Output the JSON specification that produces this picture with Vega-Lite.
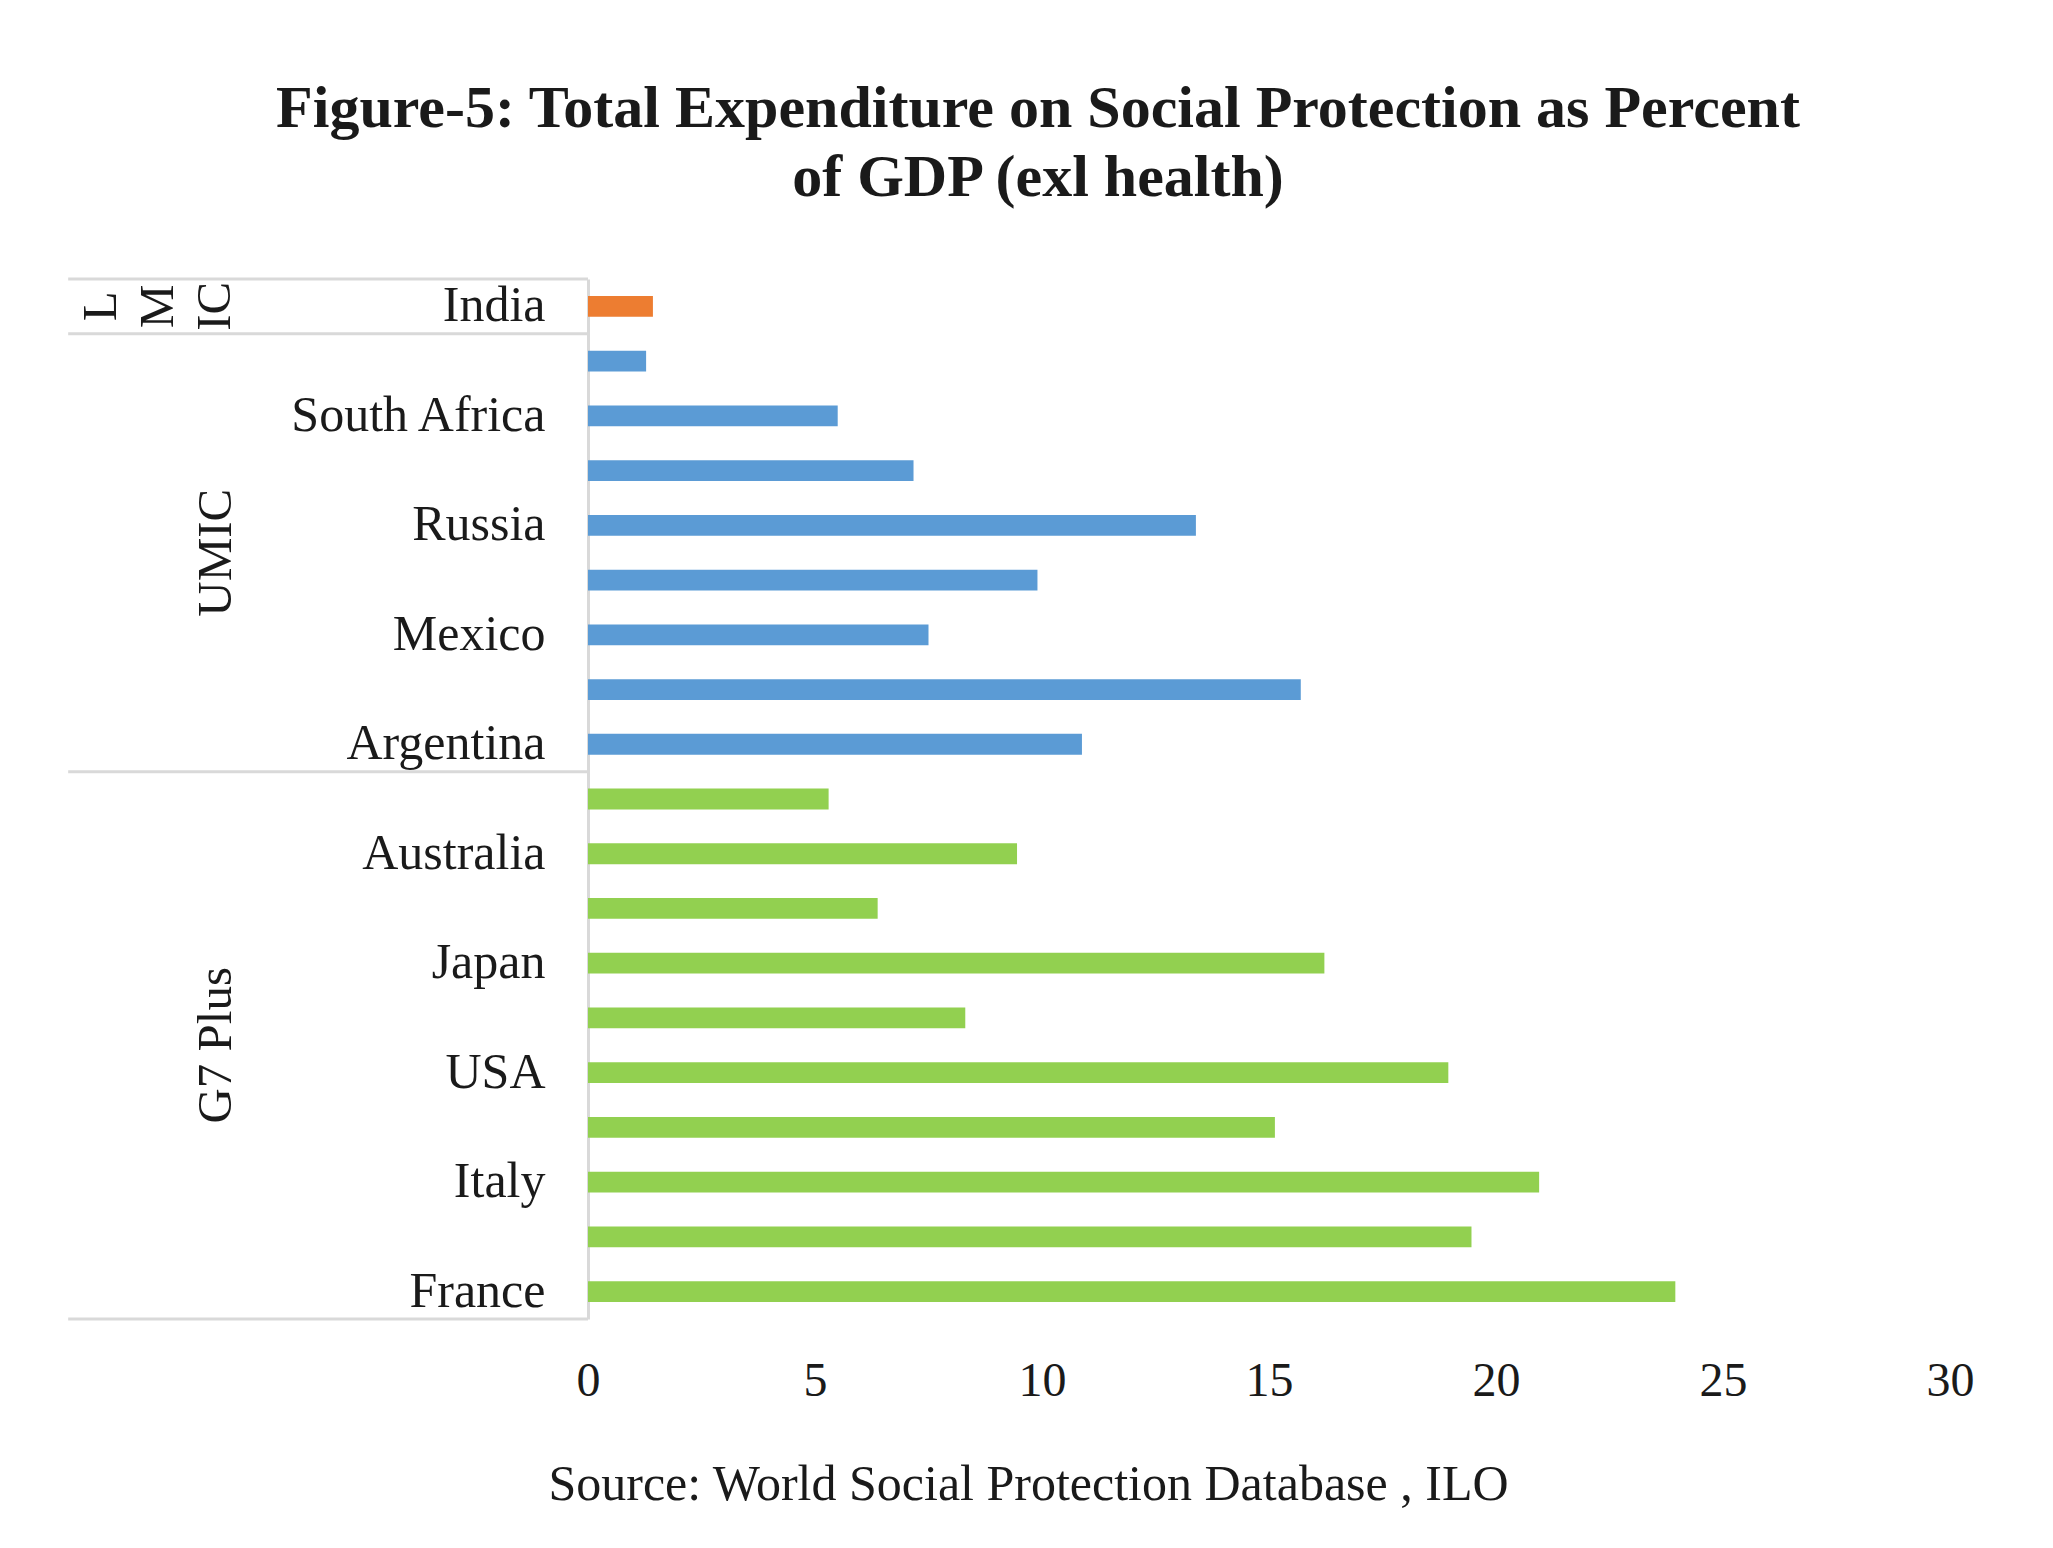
{
  "$schema": "https://vega.github.io/schema/vega-lite/v6.json",
  "width": 1362,
  "height": 1040,
  "autosize": {"type": "none"},
  "padding": {"left": 588, "top": 279, "right": 103, "bottom": 229},
  "background": "white",
  "config": {"font": "Liberation Serif", "view": {"stroke": null}},
  "title": {
    "text": ["Figure-5: Total Expenditure on Social Protection as Percent", "of GDP (exl health)"],
    "font": "Liberation Serif",
    "fontSize": 60,
    "fontWeight": "bold",
    "color": "#1a1a1a",
    "lineHeight": 69,
    "anchor": "middle",
    "frame": "group",
    "dx": -231,
    "offset": 69
  },
  "datasets": {
    "expenditure": [
      {"country": "India", "group": "LMIC", "value": 1.43},
      {"country": "Unlabelled UMIC 1", "group": "UMIC", "value": 1.28},
      {"country": "South Africa", "group": "UMIC", "value": 5.50},
      {"country": "Unlabelled UMIC 2", "group": "UMIC", "value": 7.17},
      {"country": "Russia", "group": "UMIC", "value": 13.39},
      {"country": "Unlabelled UMIC 3", "group": "UMIC", "value": 9.90},
      {"country": "Mexico", "group": "UMIC", "value": 7.50},
      {"country": "Unlabelled UMIC 4", "group": "UMIC", "value": 15.70},
      {"country": "Argentina", "group": "UMIC", "value": 10.88},
      {"country": "Unlabelled G7 Plus 1", "group": "G7 Plus", "value": 5.30},
      {"country": "Australia", "group": "G7 Plus", "value": 9.45},
      {"country": "Unlabelled G7 Plus 2", "group": "G7 Plus", "value": 6.38},
      {"country": "Japan", "group": "G7 Plus", "value": 16.22},
      {"country": "Unlabelled G7 Plus 3", "group": "G7 Plus", "value": 8.31},
      {"country": "USA", "group": "G7 Plus", "value": 18.95},
      {"country": "Unlabelled G7 Plus 4", "group": "G7 Plus", "value": 15.13},
      {"country": "Italy", "group": "G7 Plus", "value": 20.95},
      {"country": "Unlabelled G7 Plus 5", "group": "G7 Plus", "value": 19.46},
      {"country": "France", "group": "G7 Plus", "value": 23.95}
    ],
    "groupStarts": [
      {"country": "India"},
      {"country": "Unlabelled UMIC 1"},
      {"country": "Unlabelled G7 Plus 1"}
    ],
    "groupEnds": [
      {"country": "France"}
    ],
    "lmicLabel": [
      {"country": "India", "label": ["L", "M", "IC"]}
    ],
    "groupLabels": [
      {"country": "Russia", "label": "UMIC"},
      {"country": "Unlabelled G7 Plus 3", "label": "G7 Plus"}
    ]
  },
  "layer": [
    {
      "data": {"name": "expenditure"},
      "mark": {"type": "bar", "height": {"band": 0.38}},
      "encoding": {
        "y": {
          "field": "country",
          "type": "nominal",
          "sort": null,
          "scale": {
            "domain": ["India", "Unlabelled UMIC 1", "South Africa", "Unlabelled UMIC 2", "Russia", "Unlabelled UMIC 3", "Mexico", "Unlabelled UMIC 4", "Argentina", "Unlabelled G7 Plus 1", "Australia", "Unlabelled G7 Plus 2", "Japan", "Unlabelled G7 Plus 3", "USA", "Unlabelled G7 Plus 4", "Italy", "Unlabelled G7 Plus 5", "France"],
            "paddingInner": 0,
            "paddingOuter": 0
          },
          "axis": {
            "title": null,
            "values": ["India", "South Africa", "Russia", "Mexico", "Argentina", "Australia", "Japan", "USA", "Italy", "France"],
            "domainColor": "#d9d9d9",
            "domainWidth": 3,
            "ticks": false,
            "labelFontSize": 50,
            "labelFont": "Liberation Serif",
            "labelColor": "#1a1a1a",
            "labelPadding": 43,
            "labelLimit": 0
          }
        },
        "x": {
          "field": "value",
          "type": "quantitative",
          "scale": {"domain": [0, 30], "nice": false},
          "axis": {
            "values": [0, 5, 10, 15, 20, 25, 30],
            "grid": false,
            "domain": false,
            "ticks": false,
            "labelFontSize": 48,
            "labelFont": "Liberation Serif",
            "labelColor": "#1a1a1a",
            "labelPadding": 38,
            "labelFlush": false,
            "title": "Source: World Social Protection Database , ILO",
            "titleFont": "Liberation Serif",
            "titleFontSize": 50,
            "titleFontWeight": "normal",
            "titleColor": "#1a1a1a",
            "titleX": 440,
            "titleY": 180,
            "titleBaseline": "alphabetic",
            "titleAlign": "center"
          }
        },
        "color": {
          "field": "group",
          "type": "nominal",
          "scale": {"domain": ["LMIC", "UMIC", "G7 Plus"], "range": ["#ED7D31", "#5B9BD5", "#92D050"]},
          "legend": null
        }
      }
    },
    {
      "data": {"name": "groupStarts"},
      "mark": {"type": "rule", "color": "#d9d9d9", "strokeWidth": 3},
      "encoding": {
        "y": {"field": "country", "type": "nominal", "bandPosition": 0},
        "x": {"datum": -11.45, "type": "quantitative"},
        "x2": {"datum": 0}
      }
    },
    {
      "data": {"name": "groupEnds"},
      "mark": {"type": "rule", "color": "#d9d9d9", "strokeWidth": 3},
      "encoding": {
        "y": {"field": "country", "type": "nominal", "bandPosition": 1},
        "x": {"datum": -11.45, "type": "quantitative"},
        "x2": {"datum": 0}
      }
    },
    {
      "data": {"name": "lmicLabel"},
      "mark": {"type": "text", "angle": 270, "align": "center", "baseline": "middle", "fontSize": 49, "lineHeight": 57, "font": "Liberation Serif", "color": "#1a1a1a"},
      "encoding": {
        "y": {"field": "country", "type": "nominal", "bandPosition": 0.5},
        "x": {"datum": -10.73, "type": "quantitative"},
        "text": {"field": "label"}
      }
    },
    {
      "data": {"name": "groupLabels"},
      "mark": {"type": "text", "angle": 270, "align": "center", "baseline": "middle", "fontSize": 49, "font": "Liberation Serif", "color": "#1a1a1a"},
      "encoding": {
        "y": {"field": "country", "type": "nominal", "bandPosition": 1},
        "x": {"datum": -8.19, "type": "quantitative"},
        "text": {"field": "label"}
      }
    }
  ]
}
